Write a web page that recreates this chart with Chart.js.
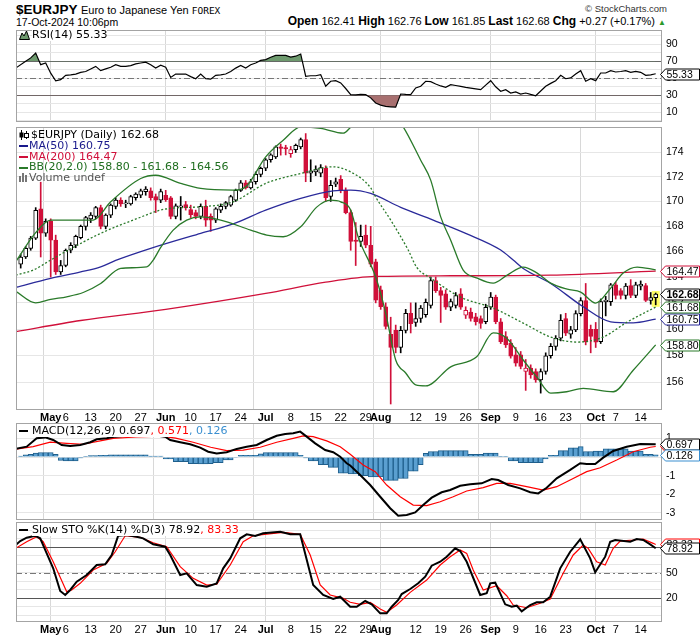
<!DOCTYPE html>
<html>
<head>
<meta charset="utf-8">
<title>$EURJPY</title>
<script src="https://cdn.jsdelivr.net/npm/chart.js@4.4.1/dist/chart.umd.min.js"></script>
<style>
html,body{margin:0;padding:0;background:#fff;}
#wrap{position:relative;width:700px;height:639px;overflow:hidden;background:#fff;font-family:"Liberation Sans",Arial,sans-serif;color:#000;}
canvas{position:absolute;left:0;}
.abs{position:absolute;white-space:nowrap;}
.lg{position:absolute;white-space:nowrap;font-family:"DejaVu Sans",Verdana,sans-serif;font-size:11px;line-height:12px;z-index:5;}
.bg{background:#fff;}
.ic{position:absolute;z-index:5;}
</style>
</head>
<body>
<div id="wrap">
  <div class="abs" style="left:16px;top:2px;font-size:13.5px;font-weight:bold;line-height:16px;">$EURJPY</div>
  <div class="abs" style="left:81px;top:4px;font-size:11px;line-height:13px;">Euro to Japanese Yen <span style="font-family:'DejaVu Sans Mono',monospace;font-size:9.5px;">FOREX</span></div>
  <div class="abs" style="left:16px;top:16px;font-size:10.5px;line-height:13px;">17-Oct-2024 10:06pm</div>
  <div class="abs" style="right:33px;top:3px;font-size:9.5px;line-height:12px;color:#333;">© StockCharts.com</div>
  <div class="abs" style="right:34px;top:15px;font-size:11px;line-height:13px;"><b style="font-size:12px">Open</b> 162.41 <b style="font-size:12px">High</b> 162.76 <b style="font-size:12px">Low</b> 161.85 <b style="font-size:12px">Last</b> 162.68 <b style="font-size:12px">Chg</b> +0.27 (+0.17%) <span style="color:#2a9a2a;font-size:8px">&#9650;</span></div>

  <canvas id="cRsi" width="700" height="95" style="top:29px"></canvas>
  <canvas id="cMain" width="700" height="298" style="top:126px"></canvas>
  <canvas id="cMacd" width="700" height="99" style="top:422px"></canvas>
  <canvas id="cSto" width="700" height="118" style="top:521px"></canvas>

  <!-- RSI legend -->
  <svg class="ic" style="left:19px;top:30px" width="11" height="10"><path d="M0.5 9.5 L3 3 L5 6 L7.5 1 L10.5 9.5 Z" fill="#6e9a6e" stroke="#000" stroke-width="1"/></svg>
  <div class="lg" style="left:32px;top:29px;"><span class="bg">RSI(14) 55.33</span></div>

  <!-- Main legend -->
  <svg class="ic" style="left:19px;top:130px" width="11" height="10"><path d="M2.5 0 V10 M7.5 1 V9" stroke="#000" stroke-width="1"/><rect x="0.5" y="2.5" width="4" height="5" fill="#000"/><rect x="5.5" y="3.5" width="4" height="4" fill="#fff" stroke="#000" stroke-width="1"/></svg>
  <div class="lg" style="left:31px;top:129px;">$EURJPY (Daily) 162.68</div>
  <div class="ic" style="left:19px;top:145px;width:9px;height:2px;background:#1a1a8c"></div>
  <div class="lg" style="left:29px;top:139.7px;color:#1a1a8c;">MA(50) 160.75</div>
  <div class="ic" style="left:19px;top:156px;width:9px;height:2px;background:#d0103a"></div>
  <div class="lg" style="left:29px;top:150.7px;color:#d0103a;">MA(200) 164.47</div>
  <div class="ic" style="left:19px;top:166.5px;width:9px;height:2px;background:#2a7a2a"></div>
  <div class="lg" style="left:29px;top:161.3px;color:#1f6e1f;">BB(20,2.0) 158.80 - 161.68 - 164.56</div>
  <svg class="ic" style="left:19px;top:173px" width="10" height="9"><rect x="0" y="3" width="2" height="6" fill="#777"/><rect x="3" y="0" width="2" height="9" fill="#777"/><rect x="6" y="2" width="2" height="7" fill="#777"/></svg>
  <div class="lg" style="left:29px;top:171.7px;color:#555;">Volume undef</div>

  <!-- MACD legend -->
  <div class="ic" style="left:19px;top:430px;width:9px;height:2px;background:#000"></div>
  <div class="lg" style="left:32px;top:425px;"><span class="bg">MACD(12,26,9) 0.697<span style="color:#ff0000">, 0.571</span><span style="color:#3a8fd0">, 0.126</span></span></div>

  <!-- STO legend -->
  <div class="ic" style="left:19px;top:529px;width:9px;height:2px;background:#000"></div>
  <div class="lg" style="left:32px;top:524px;"><span class="bg">Slow STO %K(14) %D(3) 78.92<span style="color:#ff0000">, 83.33</span></span></div>
</div>

<script>
// ---------- axis labels ----------
const tickIdx  = [6,9,14,19,24,29,34,39,44,49,54,59,64,69,72,79,84,89,94,99,104,109,115,119,124];
const tickText = ['May','6','13','20','27','Jun','10','17','24','Jul','8','15','22','29','Aug','12','19','26','Sep','9','16','23','Oct','7','14'];
const monthIdx = [6,29,49,72,94,115];
const priceTicks = [156,158,160,162,164,166,168,170,172,174];
const oscTicks = [0,10,20,30,40,50,60,70,80,90,100];
const macdTicks = [-3,-2,-1,0,1];

// ---------- daily candles (23-Apr-2024 .. 17-Oct-2024) ----------
const open = [
165.00,165.57,166.25,167.06,169.40,167.46,168.40,166.90,164.40,164.90,
166.10,166.50,167.10,168.00,168.60,168.80,169.50,168.00,168.90,169.60,
170.10,169.80,169.80,170.30,170.50,170.80,170.85,170.40,170.10,170.50,
170.30,168.80,169.55,169.74,169.34,169.10,168.80,169.60,168.80,168.50,
169.30,169.60,169.70,170.10,170.90,171.50,171.10,171.60,172.20,172.70,
173.40,173.64,174.46,174.40,173.90,174.24,174.46,175.07,172.30,172.40,
172.30,172.70,170.40,171.40,171.80,170.90,169.10,166.90,166.80,167.30,
166.50,165.20,163.00,161.70,159.60,159.90,158.60,159.90,161.20,160.50,
160.80,161.10,161.80,163.73,162.95,162.70,161.66,161.80,162.70,161.05,
161.30,160.92,160.80,160.55,161.66,162.44,160.55,159.43,158.93,158.05,
158.05,156.80,157.05,156.80,156.17,156.80,157.98,158.68,159.30,160.80,
159.60,159.93,161.17,162.18,159.98,159.98,159.05,162.10,162.10,163.40,
162.95,162.57,163.34,162.57,163.30,163.34,162.18,162.41];
const high = [
165.80,166.40,167.20,169.50,171.56,168.60,168.60,167.30,165.30,166.20,
166.70,167.30,168.10,168.80,169.10,169.60,169.70,169.00,169.80,170.30,
170.30,170.10,170.50,170.70,171.00,171.20,171.10,170.60,171.00,170.90,
170.40,169.80,170.40,170.00,169.70,169.30,169.80,170.10,169.00,169.50,
169.80,170.00,170.50,171.00,171.70,171.70,171.80,172.40,172.80,173.50,
173.90,174.55,174.70,174.60,174.50,174.70,175.20,175.57,173.40,172.90,
173.00,172.90,171.70,171.90,172.10,171.10,169.30,168.30,168.10,168.10,
168.00,165.40,163.30,162.00,160.90,160.30,160.20,161.50,162.00,162.00,
161.80,162.30,164.00,164.00,163.20,163.00,162.30,162.80,163.10,161.70,
161.60,161.20,161.00,161.90,162.80,162.60,160.80,159.80,159.20,158.60,
158.30,157.70,157.30,157.00,157.00,158.20,158.90,159.50,161.10,161.20,
160.20,161.40,162.40,163.50,160.30,160.50,162.30,162.50,163.50,163.60,
163.10,163.50,163.80,163.60,163.70,163.50,162.80,162.76];
const low = [
164.70,165.45,166.10,166.95,165.57,167.20,164.00,164.20,164.20,164.80,
165.90,166.30,167.00,167.70,168.30,168.60,167.80,167.80,168.70,169.40,
169.60,169.50,169.70,170.10,170.30,170.50,170.10,169.10,169.90,170.00,
168.60,168.60,168.50,169.30,168.70,168.60,168.60,168.00,167.60,168.30,
169.10,169.40,169.60,170.00,170.80,171.00,171.00,171.40,172.00,172.50,
173.20,173.50,173.78,173.80,173.60,174.00,174.30,171.60,171.60,172.10,
172.00,170.00,170.00,171.20,170.70,169.00,166.10,164.90,166.40,166.30,
164.80,162.00,161.50,160.00,154.40,158.20,158.20,159.70,159.70,160.20,
160.50,160.90,161.60,162.80,160.50,161.50,161.40,161.60,161.50,160.80,
160.60,160.30,160.05,160.40,161.50,160.40,158.90,158.60,157.80,157.20,
157.00,155.40,156.30,156.00,155.20,156.60,157.80,158.40,159.10,159.50,
159.30,159.80,161.00,158.80,158.20,158.60,158.90,161.00,161.80,162.30,
162.30,162.30,162.40,162.40,163.00,162.10,161.90,161.85];
const close = [
165.57,166.25,167.06,169.28,167.46,168.40,166.90,164.40,164.90,166.10,
166.50,167.20,168.00,168.70,168.90,169.50,168.00,168.90,169.70,170.10,
169.80,169.85,170.40,170.60,170.85,171.00,170.30,170.10,170.80,170.15,
168.80,169.65,169.65,169.47,168.94,168.80,169.60,168.50,168.50,169.40,
169.60,169.90,170.40,170.90,171.50,171.10,171.60,172.20,172.70,173.40,
173.80,174.46,174.33,174.30,174.24,174.60,175.07,172.30,172.50,172.60,
172.75,170.30,171.30,171.60,170.90,169.10,166.80,166.80,167.20,166.50,
165.00,162.20,161.70,160.20,158.60,158.60,159.90,161.20,160.40,160.80,
161.60,162.05,163.73,162.95,162.57,161.66,162.10,162.57,161.66,161.42,
160.80,160.55,160.42,161.66,162.44,160.55,159.05,158.80,157.95,157.43,
157.18,157.05,156.55,156.17,156.80,157.98,158.68,159.30,160.67,159.68,
159.93,161.17,162.18,159.05,159.43,159.00,162.10,162.20,163.40,162.57,
162.57,163.30,162.57,163.40,163.44,162.18,162.41,162.68];

// ---------- overlays [dayIndex, value] ----------
const ma50Pts = [[-1,163.2],[6,163.9],[12,164.4],[16,164.8],[19,165.3],[26,166.25],[36,167.44],[42.5,168.19],[49,169.3],[56,170.25],[62.5,170.86],[66,170.92],[70,170.65],[76,169.52],[82.5,168.5],[89,167.44],[96,166.12],[98.5,165.33],[100.5,164.67],[106,163.5],[112.5,161.7],[118,160.55],[122.5,160.47],[127,160.75]];
const ma200Pts = [[-1,159.8],[12,160.65],[29,161.5],[49,162.73],[61,163.6],[71,164.05],[86,164.1],[106,164.15],[127,164.47]];
const bbUpPts = [[-1,165.2],[3,167.5],[6,168.5],[14.5,168.5],[18,169.97],[24,171.86],[27,172.13],[32,171.46],[36,171.05],[42.5,170.91],[45,171.18],[49,173.64],[52.5,175.02],[56,176.13],[60,176.0],[64.5,175.6],[66,176.1],[70,177.4],[73,178.0],[76.5,176.13],[80,173.36],[82,171.73],[84,168.76],[86,166.9],[88.5,164.54],[91.3,163.92],[94.5,163.53],[97.3,164.15],[100.5,164.78],[103.3,164.31],[106,163.53],[109.3,163.06],[112,162.83],[115,161.98],[118,163.14],[120.5,164.31],[123.3,164.78],[127,164.56]];
const bbMidPts = [[-1,164.15],[2.5,164.54],[6,165.33],[9,166.0],[16,167.44],[22.5,168.5],[29,169.39],[36,169.57],[42.5,169.97],[49,171.46],[56,172.27],[62.5,172.82],[66,172.4],[70,171.1],[71,170.35],[74,168.5],[77.5,166.12],[79.2,164.76],[82,163.92],[88,162.44],[94.5,161.6],[100.5,160.45],[106,159.39],[111.3,159.01],[116.5,159.39],[121.3,160.53],[127,161.68]];
const bbLoPts = [[-1,162.9],[3,162.0],[6,162.27],[9.2,162.47],[12.5,162.8],[16,163.5],[20,164.68],[25.2,164.8],[26.5,165.33],[28,166.33],[30.5,167.7],[33.2,168.5],[36,168.76],[40,168.5],[46,167.7],[49.2,167.3],[52.5,167.17],[56,167.96],[59.2,169.54],[62,170.1],[64,169.97],[66,169.3],[67.5,167.14],[71,164.0],[73,161.22],[75,157.66],[77,156.69],[79,155.8],[81,155.73],[86,157.15],[91.2,157.9],[94.5,159.7],[97.2,159.3],[100.5,157.66],[103.2,156.4],[106,155.2],[109.2,155.3],[112.5,155.55],[118.5,155.3],[122.5,156.9],[127,158.8]];

// ---------- RSI(14) ----------
const rsiPts = [[-1,62],[1,70],[2,74],[3,79.8],[4,66],[5,68],[6,56],[7,47],[8,48.4],[9,53.5],[10,54],[11,55],[12,57],[13,58],[14,61],[15,64],[16,59],[17,61],[18,63],[19,66],[20,64],[21,64],[22,65],[23,67],[24,68],[25,69],[26,66],[27,62],[28,65.3],[29,63],[30,51],[31,55],[32,55],[33,55],[34,52],[35,49.5],[36,55],[37,49.5],[38,49],[39,53.5],[40,54],[41,55],[42,58],[43,62],[44,65],[45,62],[46,66],[47,68],[48,71],[49,72],[50,74.7],[51,77],[52,77],[53,77],[54,75],[55,76],[56,78.6],[57,52.4],[58,53],[59,53],[60,54.2],[61,40.6],[62,46.5],[63,47.2],[64,44.5],[65,38],[66,30.7],[67,30.5],[68,31],[69,30.7],[70,27],[71,21],[72,18.5],[73,17],[74,16.5],[75,16],[76,31.5],[77,31],[78,30.7],[79,38.6],[80,40.6],[81,46.5],[82,46],[83,43.3],[84,41],[85,39.4],[86,42.5],[87,41.5],[88,40.5],[89,39.4],[90,38.5],[91,37.5],[92,36.6],[93,42],[94,47.2],[95,40],[96,34.7],[97,36.6],[98,32.7],[99,33.9],[100,31.5],[101,32.7],[102,31],[103,29.5],[104,35],[105,40.6],[106,44],[107,47.2],[108,53.5],[109,49.5],[110,50.4],[111,55],[112,59],[113,46.5],[114,49.5],[115,47.2],[116,56.2],[117,56.2],[118,59],[119,57.4],[120,58],[121,59],[122,57],[123,58.2],[124,57],[125,53.5],[126,54],[127,55.33]];

// ---------- MACD(12,26,9) ----------
const macdPts = [[-1,0.45],[1.2,0.56],[3.2,1.01],[4.9,1.06],[6.5,0.92],[8.2,0.65],[9.9,0.6],[11.9,0.65],[13.9,0.8],[15.2,0.96],[17.2,1.01],[18.9,1.1],[22,1.18],[26,1.2],[28.9,1.1],[29.9,0.92],[31.9,0.8],[33.9,0.69],[35.9,0.51],[37.5,0.29],[39.2,0.2],[41.2,0.26],[43.2,0.44],[45.2,0.56],[47.2,0.65],[49.2,0.92],[51.2,1.15],[52.9,1.24],[54.5,1.28],[55.9,1.37],[57.2,1.1],[58.9,0.74],[60.9,0.38],[62.5,0.26],[63.9,0.02],[65.2,-0.33],[65.9,-0.45],[67.9,-0.96],[69.9,-1.5],[71.9,-2.13],[73.9,-2.75],[75.5,-3.15],[77.2,-3.11],[78.9,-2.97],[80.5,-2.58],[82.2,-2.18],[84.2,-1.89],[85.9,-1.77],[87.9,-1.54],[89.9,-1.46],[92.2,-1.41],[94.2,-1.18],[95.5,-1.23],[97.5,-1.5],[99.9,-1.68],[101.9,-1.89],[103.5,-1.95],[105.2,-1.65],[107.2,-1.14],[109.9,-0.69],[111.9,-0.33],[113.2,-0.37],[114.9,-0.37],[116.5,-0.03],[118.5,0.33],[121.2,0.56],[123.9,0.7],[127,0.697]];
const signalPts = [[-1,0.43],[2.5,0.56],[5.9,0.8],[9.2,0.74],[12.5,0.69],[15.9,0.87],[18.5,1.01],[23,1.08],[28,1.13],[31,1.02],[34.5,0.8],[38,0.53],[41.2,0.35],[44.5,0.38],[47.9,0.53],[51.2,0.8],[54.5,1.01],[56.5,1.14],[58.5,1.1],[61.2,0.87],[63.9,0.56],[65.9,0.15],[68.5,-0.42],[70.9,-0.78],[73.2,-1.5],[75.9,-2.13],[78.5,-2.58],[81.2,-2.61],[83.9,-2.4],[86.5,-2.13],[89.2,-1.82],[92.5,-1.64],[95.2,-1.41],[97.9,-1.41],[101.2,-1.59],[104.5,-1.77],[107.2,-1.59],[109.9,-1.23],[113.2,-0.78],[115.9,-0.57],[119.2,-0.16],[122.5,0.29],[125.9,0.53],[127,0.571]];
const macdHist = [
0.06,0.12,0.15,0.22,0.25,0.25,0.25,0.15,-0.18,-0.2,
-0.2,-0.2,-0.05,0.02,0.08,0.08,0.1,0.1,0.12,0.12,
0.12,0.12,0.12,0.12,0.12,0.12,0.05,0.05,0.05,-0.1,
-0.1,-0.25,-0.25,-0.25,-0.35,-0.35,-0.37,-0.37,-0.35,-0.3,
-0.3,-0.15,-0.15,-0.02,0.1,0.1,0.1,0.1,0.18,0.25,
0.25,0.25,0.25,0.25,0.25,0.25,0.1,-0.05,-0.2,-0.2,
-0.4,-0.4,-0.55,-0.55,-0.86,-0.86,-0.9,-0.9,-1.0,-1.0,
-1.07,-1.07,-1.07,-1.25,-1.25,-1.25,-1.15,-1.15,-0.75,-0.75,
-0.4,0.2,0.3,0.3,0.35,0.35,0.35,0.35,0.35,0.35,
0.15,0.15,0.15,0.22,0.22,0.22,0.02,0.02,-0.2,-0.2,
-0.3,-0.3,-0.3,-0.3,-0.3,-0.1,0.1,0.1,0.35,0.35,
0.5,0.5,0.56,0.3,0.3,0.33,0.33,0.45,0.45,0.45,
0.45,0.45,0.33,0.33,0.33,0.15,0.15,0.126];

// ---------- Slow Stochastic %K(14) %D(3) ----------
const stoKPts = [[-1,82.7],[-0.1,87.4],[1.2,91.3],[2.9,93.6],[3.9,90.6],[5.2,72.9],[6.5,55.3],[7.9,28.6],[8.9,23.9],[9.9,29.8],[11.2,39.5],[13.2,47.4],[15.2,59.2],[16.9,60],[18.2,71],[19.5,93.6],[21.2,94.5],[23.2,92.5],[24.5,90.6],[26.5,83.5],[28.9,80.7],[29.9,71],[31.9,47.4],[33.2,49.4],[35.2,35.6],[37.2,33.6],[39.2,37.6],[40.5,55.3],[41.9,67],[43.9,90.6],[45.2,95.3],[46.9,93.3],[48.5,96.5],[51.9,98.4],[53.9,95.3],[55.9,95.3],[58.5,35.6],[60.5,23.9],[62.5,19.2],[63.9,21.9],[65.9,10.1],[67.2,10.1],[68.9,16.8],[70.2,12.9],[71.9,2.3],[73.2,2.3],[74.2,10.1],[75.5,18],[76.2,25],[77.9,30.9],[79.5,37.6],[80.9,45.4],[82.2,58.4],[83.9,63],[85.2,69],[86.9,78.8],[87.9,75.6],[89.2,63],[91.9,23.9],[93.2,25.9],[93.9,37.6],[94.9,38.4],[96.9,12.9],[98.2,10.1],[99.2,11.3],[100.2,4.7],[101.9,12.1],[103.2,15.3],[104.5,15.3],[105.9,21.9],[107.9,55.3],[109.9,74.8],[111.9,89.4],[113.9,67],[114.9,50.6],[116.9,69],[117.9,86.6],[118.9,88.6],[121.9,86.6],[123.2,89.8],[124.5,88.6],[125.9,83.5],[127,78.92]];
const stoDPts = [[-1,78.8],[1.2,86.6],[3.2,92.5],[4.5,86.6],[6.5,63],[9.2,27.8],[10.2,29.8],[11.9,37.6],[14.5,53.3],[17.2,61.2],[18.9,74.8],[20.9,93.6],[23.9,91.8],[26.5,85.4],[29.2,80.7],[31.9,57.2],[34.5,43.5],[37.2,35.6],[39.2,36.5],[41.9,59.2],[44.5,86.6],[46.5,93.6],[49.2,95.6],[52.5,97.6],[55.9,95.3],[57.9,71],[59.9,35.6],[61.9,23.9],[64.5,20],[65.9,15.3],[67.9,12.9],[69.9,15.3],[71.9,7.4],[73.2,3.5],[75.2,12.1],[77.9,27],[81.2,41.5],[83.9,59.2],[85.9,69],[87.9,76.8],[89.2,72.9],[90.5,53.3],[92.5,29.8],[95.2,34.8],[97.2,23],[98.5,12.1],[101.2,8.9],[103.9,14.1],[105.9,19.2],[108.5,49.4],[110.5,71],[112.5,82.7],[113.5,78.8],[115.2,63],[116.9,59.2],[118.5,78.8],[119.9,87.4],[122.5,88.6],[124.5,89.8],[126.5,84.7],[127,83.33]];

// =====================================================================
Chart.defaults.font.family = '"Liberation Sans", Arial, sans-serif';
Chart.defaults.color = '#000';

const N = close.length;
const XMIN = -0.94, XMAX = 128.26;
const RED = '#d0103a';
const idx = Array.from({length:N}, (_, i) => i);
const last = a => a[a.length - 1][1];
const candleColor = i => (close[i] < open[i] || (i > 0 && close[i] < close[i-1])) ? RED : '#000';
const isFilled = i => close[i] < open[i];

function xScale(showLabels, h) {
  return {
    type: 'linear', min: XMIN, max: XMAX, offset: false,
    afterBuildTicks: s => { s.ticks = tickIdx.map(v => ({value: v})); },
    afterFit: s => { s.height = h; s.paddingLeft = 0; s.paddingRight = 0; },
    ticks: {
      display: showLabels, autoSkip: false, maxRotation: 0, minRotation: 0, padding: 1, color: '#000',
      font: c => ({family: '"Liberation Sans", Arial, sans-serif', size: 11,
                   weight: (c.tick && monthIdx.includes(c.tick.value)) ? 'bold' : 'normal'}),
      callback: v => { const k = tickIdx.indexOf(v); return k >= 0 ? tickText[k] : ''; }
    },
    grid: {drawTicks: false, lineWidth: 1,
           color: c => (c.tick && monthIdx.includes(c.tick.value)) ? '#d8d8d8' : 'rgba(0,0,0,0)'},
    border: {display: false}
  };
}
function yScale(type, min, max, ticks, labelFn) {
  return {
    type, position: 'right', min, max,
    afterBuildTicks: s => { s.ticks = ticks.map(v => ({value: v})); },
    afterFit: s => { s.width = 38; s.paddingTop = 0; s.paddingBottom = 0; },
    ticks: {autoSkip: false, padding: 4, color: '#000', font: {size: 10.5}, callback: labelFn},
    grid: {drawTicks: false, color: '#e6e6e6'},
    border: {display: false}
  };
}
function opts(padBottom, scales) {
  return {
    responsive: false, animation: false, events: [],
    layout: {autoPadding: false, padding: {left: 16, right: 0, top: 1, bottom: padBottom}},
    plugins: {legend: {display: false}, tooltip: {enabled: false}},
    scales
  };
}
const framePlugin = {
  id: 'frame',
  afterDraw(chart) {
    const {ctx, chartArea: a} = chart;
    ctx.save(); ctx.strokeStyle = '#a4a4a4'; ctx.lineWidth = 1;
    ctx.strokeRect(Math.round(a.left) + 0.5, Math.round(a.top) + 0.5, Math.round(a.width) - 1, Math.round(a.height) - 1);
    ctx.restore();
  }
};
function refPlugin(lines) {
  return {
    id: 'ref',
    beforeDatasetsDraw(chart) {
      const {ctx, chartArea: a} = chart, ys = chart.scales.y;
      ctx.save();
      lines.forEach(l => {
        const y = Math.round(ys.getPixelForValue(l.v)) + 0.5;
        ctx.beginPath(); ctx.setLineDash(l.dash || []);
        ctx.strokeStyle = l.c; ctx.lineWidth = 1;
        ctx.moveTo(a.left, y); ctx.lineTo(a.right, y); ctx.stroke();
      });
      ctx.restore();
    }
  };
}
function tagPlugin(tags) {
  return {
    id: 'tags',
    afterDraw(chart) {
      const {ctx, chartArea: a} = chart, ys = chart.scales.y;
      ctx.save();
      tags.forEach(t => {
        const y = Math.round(ys.getPixelForValue(t.v)) + 0.5;
        const x0 = Math.round(a.right) - 1.5, x1 = x0 + 5, x2 = 699.5, h = 5.5;
        ctx.beginPath();
        ctx.moveTo(x0, y); ctx.lineTo(x1, y - h); ctx.lineTo(x2, y - h);
        ctx.lineTo(x2, y + h); ctx.lineTo(x1, y + h); ctx.closePath();
        ctx.fillStyle = '#fff'; ctx.fill();
        ctx.strokeStyle = t.c; ctx.lineWidth = 1; ctx.stroke();
        ctx.fillStyle = '#000';
        ctx.font = (t.b ? 'bold ' : '') + '10.5px "Liberation Sans", Arial, sans-serif';
        ctx.textBaseline = 'middle'; ctx.textAlign = 'left';
        ctx.fillText(t.v.toFixed(t.d || 2), x1 + 1, y + 0.5);
      });
      ctx.restore();
    }
  };
}
const highlightPlugin = {
  id: 'hl',
  beforeDatasetsDraw(chart) {
    const {ctx} = chart, xs = chart.scales.x, ys = chart.scales.y, i = N - 1;
    const x = xs.getPixelForValue(i), yh = ys.getPixelForValue(high[i]), yl = ys.getPixelForValue(low[i]);
    ctx.save(); ctx.fillStyle = '#ffff66';
    ctx.fillRect(x - 4, yh - 2, 8, yl - yh + 4);
    ctx.restore();
  }
};
const lineDs = (data, color, width, extra) => Object.assign({
  type: 'line', data, borderColor: color, borderWidth: width, pointRadius: 0, fill: false, tension: 0
}, extra || {});

// ---------- RSI chart ----------
new Chart(document.getElementById('cRsi'), {
  type: 'line',
  data: {datasets: [
    lineDs(rsiPts, '#000', 1.2, {fill: {target: {value: 70}, above: '#6e9a6e', below: 'rgba(0,0,0,0)'}, order: 0}),
    lineDs(rsiPts, 'rgba(0,0,0,0)', 0, {fill: {target: {value: 30}, above: 'rgba(0,0,0,0)', below: '#a87070'}, order: 1})
  ]},
  options: opts(2, {x: xScale(false, 0), y: yScale('linear', -1.4, 106.8, oscTicks, v => (v % 20 === 10 ? String(v) : ''))}),
  plugins: [refPlugin([{v: 70, c: '#666'}, {v: 30, c: '#666'}, {v: 50, c: '#777', dash: [6, 3, 2, 3]}]),
            framePlugin, tagPlugin([{v: last(rsiPts), c: '#000'}])]
});

// ---------- Price chart ----------
new Chart(document.getElementById('cMain'), {
  type: 'bar',
  data: {datasets: [
    {type: 'bar', data: idx.map(i => ({x: i, y: [low[i], high[i]]})), backgroundColor: idx.map(candleColor),
     barThickness: 1, grouped: false, borderWidth: 0, order: 3},
    {type: 'bar', data: idx.map(i => ({x: i, y: [Math.min(open[i], close[i]), Math.max(open[i], close[i])]})),
     backgroundColor: idx.map(i => isFilled(i) ? RED : '#fff'), borderColor: idx.map(candleColor),
     borderWidth: 1, borderSkipped: false, barThickness: 4, grouped: false, minBarLength: 1, order: 2},
    lineDs(ma200Pts, '#d0103a', 1.3, {cubicInterpolationMode: 'monotone', order: 1}),
    lineDs(ma50Pts, '#2a2a9a', 1.3, {cubicInterpolationMode: 'monotone', order: 1}),
    lineDs(bbUpPts, '#2a7a2a', 1.3, {cubicInterpolationMode: 'monotone', order: 0}),
    lineDs(bbMidPts, '#2a7a2a', 1.3, {cubicInterpolationMode: 'monotone', borderDash: [2, 2], order: 0}),
    lineDs(bbLoPts, '#2a7a2a', 1.3, {cubicInterpolationMode: 'monotone', order: 0})
  ]},
  options: opts(0, {x: xScale(true, 14), y: yScale('logarithmic', 153.96, 176.12, priceTicks, v => String(v))}),
  plugins: [highlightPlugin, framePlugin, tagPlugin([
    {v: last(bbLoPts), c: '#2a7a2a'},
    {v: last(ma50Pts), c: '#2a2a9a'},
    {v: last(bbMidPts), c: '#2a7a2a'},
    {v: last(ma200Pts), c: '#d0103a'},
    {v: close[N - 1], c: '#000', b: true}
  ])]
});

// ---------- MACD chart ----------
new Chart(document.getElementById('cMacd'), {
  type: 'bar',
  data: {datasets: [
    {type: 'bar', data: idx.map(i => ({x: i, y: macdHist[i]})), backgroundColor: '#5a9fd0', borderColor: '#1f5f8c',
     borderWidth: 1, barThickness: 5, grouped: false, order: 2},
    lineDs(signalPts, '#ff0000', 1.2, {order: 1}),
    lineDs(macdPts, '#000', 2, {order: 0})
  ]},
  options: opts(1, {x: xScale(false, 0), y: yScale('linear', -3.38, 1.833, macdTicks, v => String(v))}),
  plugins: [framePlugin, tagPlugin([
    {v: last(signalPts), c: '#ff0000', d: 3},
    {v: last(macdPts), c: '#000', d: 3},
    {v: macdHist[N - 1], c: '#3a8fd0', d: 3}
  ])]
});

// ---------- Slow STO chart ----------
new Chart(document.getElementById('cSto'), {
  type: 'line',
  data: {datasets: [
    lineDs(stoDPts, '#ff0000', 1.2, {order: 1}),
    lineDs(stoKPts, '#000', 2, {order: 0})
  ]},
  options: opts(0, {x: xScale(true, 17), y: yScale('linear', -7.9, 109.8, oscTicks, v => ([20, 50, 80].includes(v) ? String(v) : ''))}),
  plugins: [refPlugin([{v: 80, c: '#555'}, {v: 20, c: '#555'}, {v: 50, c: '#777', dash: [6, 3, 2, 3]}]),
            framePlugin, tagPlugin([{v: last(stoDPts), c: '#ff0000'}, {v: last(stoKPts), c: '#000'}])]
});
</script>
</body>
</html>
